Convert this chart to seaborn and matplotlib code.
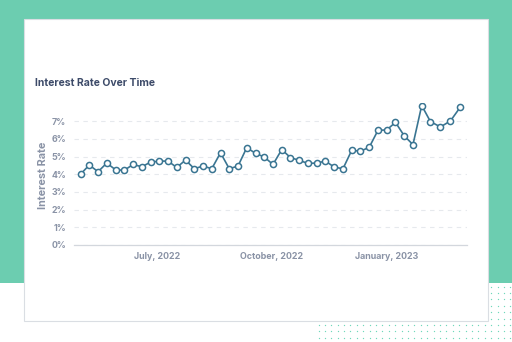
import numpy as np
import pandas as pd
import matplotlib
matplotlib.use("Agg")
import matplotlib.pyplot as plt
from matplotlib.patches import Rectangle
import seaborn as sns

# ---- data ----
dates = list(pd.date_range("2022-05-01", periods=40, freq="7D")) + list(
    pd.to_datetime(["2023-02-05", "2023-02-13", "2023-02-21", "2023-03-01"]))
rates = [4.00, 4.52, 4.14, 4.63, 4.25, 4.22, 4.55, 4.42, 4.68, 4.74,
         4.74, 4.38, 4.80, 4.31, 4.46, 4.31, 5.21, 4.31, 4.46, 5.50,
         5.18, 4.97, 4.55, 5.39, 4.94, 4.78, 4.61, 4.63, 4.74, 4.40,
         4.31, 5.35, 5.30, 5.52, 6.48, 6.50, 6.93, 6.17, 5.67, 7.88,
         6.97, 6.67, 7.01, 7.80]
x_tick_dates = pd.to_datetime(["2022-07-01", "2022-10-01", "2023-01-01"])
x_tick_labels = ["July, 2022", "October, 2022", "January, 2023"]
y_ticks = [0, 1, 2, 3, 4, 5, 6, 7]
y_tick_labels = [f"{v}%" for v in y_ticks]
title = "Interest Rate Over Time"
y_label = "Interest Rate"

df = pd.DataFrame({"date": dates, "rate": rates})

sns.set_theme(style="white")
plt.rcParams["font.family"] = ["Inter", "DejaVu Sans"]

W, H = 512, 342
fig = plt.figure(figsize=(W / 100, H / 100), dpi=100)
fig.patch.set_facecolor("white")

# ---- background decoration (pixel coordinates) ----
bg = fig.add_axes([0, 0, 1, 1], zorder=0)
bg.set_xlim(0, W)
bg.set_ylim(H, 0)
bg.axis("off")
gx, gy = np.meshgrid(np.arange(318.5, 512, 6.4), np.arange(286.7, 342, 6.4))
bg.scatter(gx.ravel(), gy.ravel(), s=0.9, color="#6fd8bb", linewidths=0, zorder=1)
bg.add_patch(Rectangle((0, 0), W, 283, facecolor="#6ccdb0", edgecolor="none", zorder=2))
bg.add_patch(Rectangle((24, 19), 464, 302, facecolor="white", edgecolor="#dadee3",
                       linewidth=0.8, zorder=3))

fig.text(35 / W, 1 - 83 / H, title, ha="left", va="center", fontsize=7.5,
         fontweight="bold", color="#3d4b69", zorder=5)

# ---- main chart ----
ax = fig.add_axes([74.3 / W, 1 - 245 / H, 392.4 / W, 141.6 / H], zorder=4)
ax.patch.set_alpha(0)
line_color = "#3a7592"
sns.lineplot(data=df, x="date", y="rate", ax=ax, color=line_color, linewidth=1.2,
             marker="o", markersize=4.4, markerfacecolor="white",
             markeredgecolor=line_color, markeredgewidth=1.1)

ax.set_xlim(pd.Timestamp("2022-04-26"), pd.Timestamp("2023-03-06"))
ax.set_ylim(0, 8)
ax.set_yticks(y_ticks)
ax.set_yticklabels(y_tick_labels)
ax.set_xticks(x_tick_dates)
ax.set_xticklabels(x_tick_labels)
ax.set_xticks([pd.Timestamp("2022-04-26"), pd.Timestamp("2023-03-06")], minor=True)

lab_color = "#8a93a6"
for lbl in ax.get_xticklabels() + ax.get_yticklabels():
    lbl.set_fontweight("bold")
    lbl.set_color(lab_color)
    lbl.set_fontsize(6.4)
ax.tick_params(axis="x", which="major", length=0, pad=5)
ax.tick_params(axis="x", which="minor", length=2.5, width=0.8, color="#d3d7dd")
ax.tick_params(axis="y", length=0, pad=6)

ax.grid(axis="y", color="#e6e9ed", linestyle=(0, (4, 4)), linewidth=0.8)
ax.grid(axis="x", visible=False)
for s in ["top", "right", "left"]:
    ax.spines[s].set_visible(False)
ax.spines["bottom"].set_color("#d3d7dd")
ax.spines["bottom"].set_linewidth(0.9)
ax.set_xlabel("")
ax.set_ylabel(y_label, fontsize=7.8, fontweight="bold", color=lab_color)
ax.yaxis.set_label_coords(-0.068, 0.49)

fig.savefig("out.png", dpi=100, facecolor="white")
